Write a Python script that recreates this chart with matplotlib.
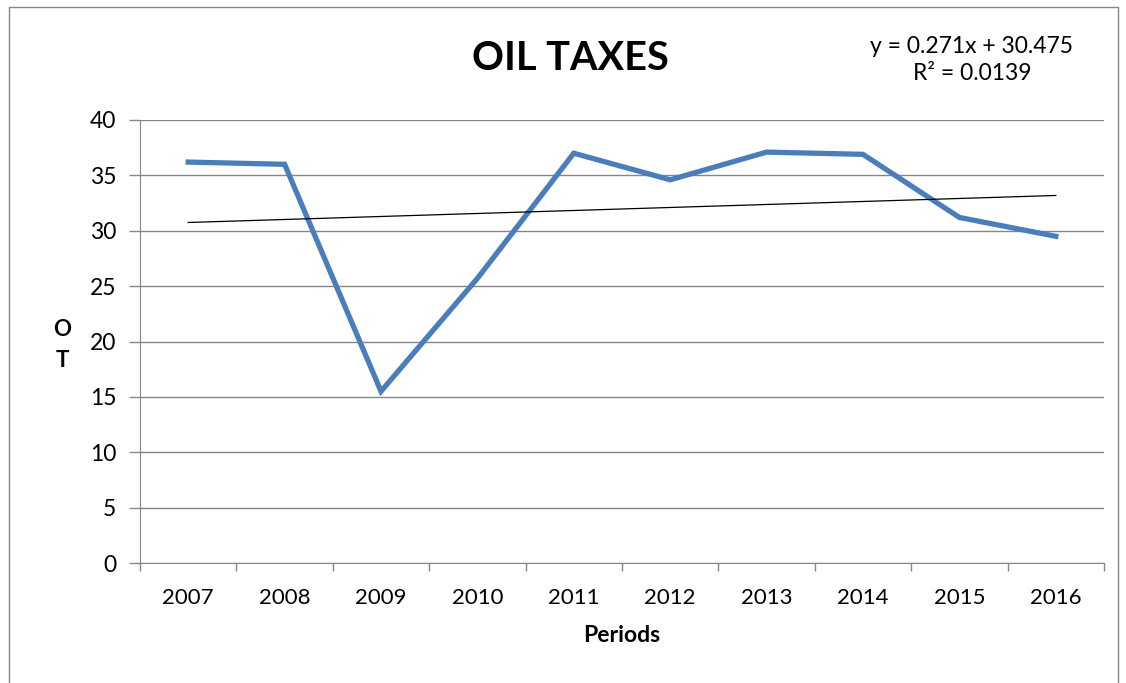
import matplotlib.pyplot as plt
import numpy as np

years = ['2007', '2008', '2009', '2010', '2011', '2012', '2013', '2014', '2015', '2016']
oil_taxes = [36.2, 36.0, 15.5, 25.7, 37.0, 34.6, 37.1, 36.9, 31.2, 29.5]
slope, intercept = 0.271, 30.475

plt.rcParams['font.family'] = ['Lato', 'DejaVu Sans']

fig = plt.figure(figsize=(11.26, 6.83), dpi=100)
ax = fig.add_axes([140 / 1126, 1 - 563 / 683, 964 / 1126, 443 / 683])

x = np.arange(1, len(years) + 1)
ax.plot(x, oil_taxes, color='#4A7EBB', linewidth=3.8, solid_joinstyle='miter', zorder=3)
ax.plot(x, slope * x + intercept, color='black', linewidth=0.9, zorder=4)

ax.set_xlim(0.5, len(years) + 0.5)
ax.set_ylim(0, 40)
ax.set_yticks(range(0, 41, 5))
ax.set_xticks(x)
ax.set_xticklabels(years)
ax.set_xticks(np.arange(0.5, len(years) + 1, 1), minor=True)
ax.tick_params(axis='x', which='major', length=0, pad=18, labelsize=16)
ax.tick_params(axis='x', which='minor', length=6, color='#868686', width=1)
ax.tick_params(axis='y', length=8, color='#868686', width=1, labelsize=16.5, pad=9)
ax.grid(axis='y', color='#868686', linewidth=1)
ax.set_axisbelow(True)
for s in ['top', 'right']:
    ax.spines[s].set_visible(False)
for s in ['left', 'bottom']:
    ax.spines[s].set_color('#868686')

fig.text(570 / 1126, 1 - 58 / 683, 'OIL TAXES', ha='center', va='center', fontsize=28.5, fontweight='bold')
fig.text(972 / 1126, 1 - 60 / 683, 'y = 0.271x + 30.475\nR² = 0.0139', ha='center', va='center',
         fontsize=16.5, linespacing=1.3)
fig.text(622 / 1126, 1 - 636 / 683, 'Periods', ha='center', va='center', fontsize=16.5, fontweight='bold')
fig.text(62 / 1126, 1 - 345 / 683, 'O\nT', ha='center', va='center', fontsize=16, fontweight='bold',
         linespacing=1.6)

fig.patches.append(plt.Rectangle((9 / 1126, -0.1), 1109 / 1126, 1 - 7 / 683 + 0.1, transform=fig.transFigure,
                                 fill=False, edgecolor='#868686', linewidth=1))

fig.savefig('out.png', dpi=100)
